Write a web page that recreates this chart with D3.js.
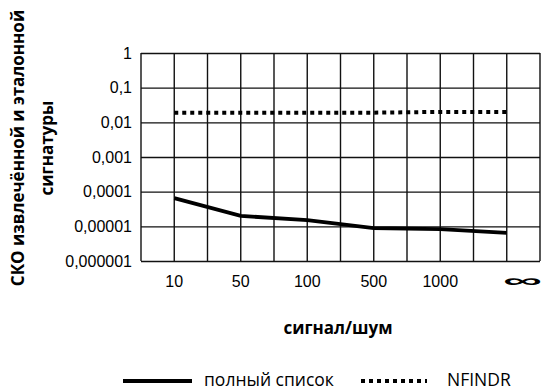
<!DOCTYPE html>
<html>
<head>
<meta charset="utf-8">
<script src="https://cdn.jsdelivr.net/npm/d3@7"></script>
<style>
  body { margin: 0; background: #fff; }
  svg { display: block; font-family: "Open Sans", sans-serif; }
  .tick text { fill: #000; }
</style>
</head>
<body>
<div id="chart"></div>
<script>
  // Data
  const categories = ["10", "50", "100", "500", "1000", "∞"];
  const fullList = [6.5e-5, 2.0e-5, 1.5e-5, 8.9e-6, 8.3e-6, 6.5e-6];
  const nfindr = [0.019, 0.019, 0.019, 0.019, 0.02, 0.02];
  const yTicks = [1e-6, 1e-5, 1e-4, 1e-3, 1e-2, 1e-1, 1];
  const yTickLabels = ["0,000001", "0,00001", "0,0001", "0,001", "0,01", "0,1", "1"];

  const width = 541;
  const height = 391;
  const plotLeft = 141, plotRight = 540, plotTop = 53, plotBottom = 261;

  const svg = d3.select('#chart')
    .append('svg')
      .attr('width', width)
      .attr('height', height);

  // Scales
  const x = d3.scaleBand()
    .domain(categories)
    .range([plotLeft, plotRight])
    .padding(0);
  const cx = d => x(d) + x.bandwidth() / 2;

  const y = d3.scaleLog()
    .domain([1e-6, 1])
    .range([plotBottom, plotTop]);

  // Horizontal grid + y labels
  const yAxis = svg.append('g')
    .attr('transform', `translate(${plotLeft},0)`)
    .call(d3.axisLeft(y)
      .tickValues(yTicks)
      .tickSize(-(plotRight - plotLeft))
      .tickPadding(9)
      .tickFormat((d, i) => yTickLabels[i]));
  yAxis.select('.domain').remove();
  yAxis.selectAll('line').attr('stroke', '#111').attr('stroke-width', 1.4);
  yAxis.selectAll('text').attr('font-size', 16);

  // Vertical grid at band edges
  const edges = categories.map(c => x(c)).concat([plotRight]);
  svg.selectAll('.edge')
    .data(edges)
    .join('line')
      .attr('class', 'edge')
      .attr('x1', d => d).attr('x2', d => d)
      .attr('y1', plotTop).attr('y2', plotBottom)
      .attr('stroke', '#111')
      .attr('stroke-width', 1.4);

  // x axis: grid at category centres + labels
  const xAxis = svg.append('g')
    .attr('transform', `translate(0,${plotBottom})`)
    .call(d3.axisBottom(x)
      .tickSize(-(plotBottom - plotTop))
      .tickPadding(15));
  xAxis.select('.domain').remove();
  xAxis.selectAll('line').attr('stroke', '#111').attr('stroke-width', 1.4);
  xAxis.selectAll('text').attr('font-size', 16);
  // the infinity label is drawn wide and flat, as in the original
  xAxis.selectAll('.tick')
    .filter(d => d === "∞")
    .select('text')
      .attr('font-family', '"Liberation Sans"')
      .attr('font-weight', 'bold')
      .attr('font-size', 26)
      .attr('text-anchor', 'start')
      .attr('dy', '0.6em')
      .attr('transform', 'translate(-4,4) scale(2.1,0.72)');

  // Lines
  const line = d3.line()
    .x((d, i) => cx(categories[i]))
    .y(d => y(d));

  svg.append('path')
    .datum(fullList)
    .attr('d', line)
    .attr('fill', 'none')
    .attr('stroke', '#000')
    .attr('stroke-width', 3.8);

  svg.append('path')
    .datum(nfindr)
    .attr('d', line)
    .attr('fill', 'none')
    .attr('stroke', '#000')
    .attr('stroke-width', 4)
    .attr('stroke-dasharray', '4 4');

  // Axis titles
  svg.append('text')
    .attr('x', 338)
    .attr('y', 334)
    .attr('text-anchor', 'middle')
    .attr('font-size', 17)
    .attr('font-weight', 'bold')
    .text('сигнал/шум');

  const yTitle = svg.append('text')
    .attr('transform', 'translate(24,148) rotate(-90)')
    .attr('text-anchor', 'middle')
    .attr('font-size', 17)
    .attr('font-weight', 'bold');
  yTitle.append('tspan').attr('x', 0).attr('y', 0).text('СКО извлечённой и эталонной');
  yTitle.append('tspan').attr('x', 0).attr('y', 29).text('сигнатуры');

  // Legend
  const legend = [
    { name: 'полный список', dash: null, x1: 123, x2: 192, tx: 204 },
    { name: 'NFINDR', dash: '4 4', x1: 361, x2: 427, tx: 447 }
  ];
  legend.forEach(l => {
    svg.append('line')
      .attr('x1', l.x1).attr('x2', l.x2)
      .attr('y1', 381).attr('y2', 381)
      .attr('stroke', '#000')
      .attr('stroke-width', 4)
      .attr('stroke-dasharray', l.dash);
    svg.append('text')
      .attr('x', l.tx)
      .attr('y', 386)
      .attr('font-size', 17.5)
      .text(l.name);
  });
</script>
</body>
</html>
